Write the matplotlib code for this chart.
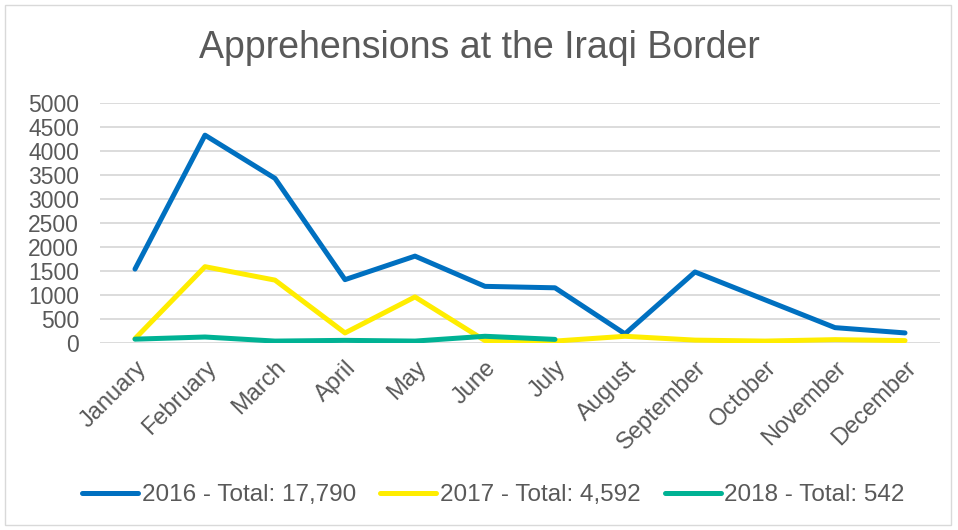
import matplotlib.pyplot as plt
from matplotlib.patches import Rectangle

months = ["January", "February", "March", "April", "May", "June", "July",
          "August", "September", "October", "November", "December"]
y2016 = [1540, 4330, 3430, 1320, 1810, 1180, 1150, 190, 1480, 900, 320, 210]
y2017 = [90, 1590, 1310, 210, 960, 50, 40, 140, 60, 40, 70, 50]
y2018 = [80, 125, 40, 55, 40, 140, 75]
labels = ["2016 - Total: 17,790", "2017 - Total: 4,592", "2018 - Total: 542"]
yticks = [0, 500, 1000, 1500, 2000, 2500, 3000, 3500, 4000, 4500, 5000]

plt.rcParams["font.family"] = ["Liberation Sans", "DejaVu Sans"]
text_color = "#595959"

fig = plt.figure(figsize=(9.58, 5.3), dpi=100)
ax = fig.add_axes([100 / 958, 1 - 343 / 530, 840 / 958, 240 / 530])

x = list(range(len(months)))
ax.plot(x, y2016, color="#0070C0", lw=3.6, solid_capstyle="round",
        solid_joinstyle="round", label=labels[0], zorder=3)
ax.plot(x, y2017, color="#FFED00", lw=3.6, solid_capstyle="round",
        solid_joinstyle="round", label=labels[1], zorder=3)
ax.plot(x[:len(y2018)], y2018, color="#00B294", lw=3.6, solid_capstyle="round",
        solid_joinstyle="round", label=labels[2], zorder=4)

ax.set_xlim(-0.5, 11.5)
ax.set_ylim(0, 5000)
ax.set_yticks(yticks)
ax.set_yticklabels([str(v) for v in yticks])
ax.yaxis.grid(True, color="#D9D9D9", lw=1.3)
ax.set_axisbelow(True)
for s in ax.spines.values():
    s.set_visible(False)
ax.tick_params(axis="both", length=0, labelsize=16.5, colors=text_color)
ax.tick_params(axis="y", pad=15)
ax.set_xticks(x)
ax.set_xticklabels(months, rotation=45, ha="right", rotation_mode="anchor")
ax.tick_params(axis="x", labelsize=17, pad=10)

fig.text(0.5, 1 - 48 / 530, "Apprehensions at the Iraqi Border",
         ha="center", va="center", fontsize=27, color=text_color)

leg = fig.legend(loc="center", bbox_to_anchor=(0.515, 1 - 495 / 530), ncol=3,
                 frameon=False, fontsize=17.5, handlelength=2.3,
                 handletextpad=0.15, columnspacing=1.0)
for t in leg.get_texts():
    t.set_color(text_color)

fig.patches.append(Rectangle((5 / 958, 5 / 530), 946 / 958, 520 / 530,
                             transform=fig.transFigure, fill=False,
                             edgecolor="#D9D9D9", lw=1))

fig.savefig("out.png", dpi=100)
